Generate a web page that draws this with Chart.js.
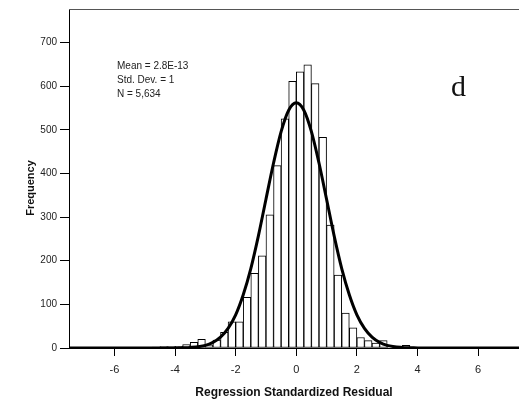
<!DOCTYPE html>
<html>
<head>
<meta charset="utf-8">
<script src="https://cdn.jsdelivr.net/npm/chart.js@4/dist/chart.umd.min.js"></script>
<style>
  html, body { margin: 0; padding: 0; background: #fff; overflow: hidden; }
  #wrap { width: 519px; height: 410px; position: relative; }
</style>
</head>
<body>
<div id="wrap"><canvas id="histChart"></canvas></div>
<script>
// bin centres (bin width 0.25) and frequencies
const binCenters = [
    -6.625, -6.375, -6.125, -5.875, -5.625, -5.375, -5.125, -4.875, -4.625, -4.375,
    -4.125, -3.875, -3.625, -3.375, -3.125, -2.875, -2.625, -2.375, -2.125, -1.875,
    -1.625, -1.375, -1.125, -0.875, -0.625, -0.375, -0.125, 0.125, 0.375, 0.625,
    0.875, 1.125, 1.375, 1.625, 1.875, 2.125, 2.375, 2.625, 2.875, 3.125,
    3.375, 3.625, 3.875, 4.125, 4.375
];
const frequencies = [
    1, 0, 0, 1, 0, 0, 0, 0, 2, 3,
    3, 4, 8, 13, 20, 7, 18, 36, 60, 60,
    116, 171, 211, 305, 418, 525, 611, 633, 649, 606,
    483, 282, 167, 80, 46, 24, 17, 11, 17, 3,
    2, 6, 2, 0, 1
];

// normal curve, values
const curveX = [
    -7.5, -5, -4.5, -4, -3.5, -3, -2.75, -2.5, -2.25, -2, -1.75, -1.5, -1.25, -1, -0.75, -0.5, -0.25,
    0, 0.25, 0.5, 0.75, 1, 1.25, 1.5, 1.75, 2, 2.25, 2.5, 2.75, 3, 3.5, 4, 4.5, 5, 7.35
];
const curveY = [
    0, 0, 0, 0.2, 1.2, 6, 13, 25, 45, 76, 122, 182, 257, 341, 424, 496, 545,
    562, 545, 496, 424, 341, 257, 182, 122, 76, 45, 25, 13, 6, 1.2, 0.2, 0, 0, 0
];

const xTicks = [-6, -4, -2, 0, 2, 4, 6];
const yTicks = [0, 100, 200, 300, 400, 500, 600, 700];

const statLines = ['Mean = 2.8E-13', 'Std. Dev. = 1', 'N = 5,634'];
const panelLetter = 'd';
const yTitle = 'Frequency';
const xTitle = 'Regression Standardized Residual';

// extra drawing: top frame line, y title, stats box and panel letter
const extrasPlugin = {
    id: 'extras',
    afterDraw(chart) {
        const ctx = chart.ctx;
        const area = chart.chartArea;
        ctx.save();

        ctx.strokeStyle = '#555';
        ctx.lineWidth = 1;
        ctx.beginPath();
        ctx.moveTo(area.left, area.top + 0.5);
        ctx.lineTo(area.right, area.top + 0.5);
        ctx.stroke();

        ctx.fillStyle = '#111';
        ctx.font = 'bold 11px "Liberation Sans", Arial, sans-serif';
        ctx.textAlign = 'center';
        ctx.textBaseline = 'middle';
        ctx.translate(31, 188);
        ctx.rotate(-Math.PI / 2);
        ctx.fillText(yTitle, 0, 0);
        ctx.setTransform(1, 0, 0, 1, 0, 0);

        ctx.fillStyle = '#222';
        ctx.font = '10px "Liberation Sans", Arial, sans-serif';
        ctx.textAlign = 'left';
        statLines.forEach((line, i) => {
            ctx.fillText(line, 117, 66 + i * 14.3);
        });

        ctx.fillStyle = '#111';
        ctx.font = '30px "Liberation Serif", "Times New Roman", serif';
        ctx.textBaseline = 'alphabetic';
        ctx.fillText(panelLetter, 451, 96);

        ctx.restore();
    }
};

var ctx = document.getElementById('histChart').getContext('2d');

new Chart(ctx, {
    data: {
        datasets: [
            {
                type: 'line',
                data: curveX.map((x, i) => ({ x: x, y: curveY[i] })),
                borderColor: '#000',
                borderWidth: 3,
                pointRadius: 0,
                fill: false,
                cubicInterpolationMode: 'monotone'
            },
            {
                type: 'bar',
                data: binCenters.map((x, i) => ({ x: x, y: frequencies[i] })),
                backgroundColor: '#fff',
                borderColor: '#000',
                borderWidth: 1,
                borderSkipped: false,
                barPercentage: 1,
                categoryPercentage: 1
            }
        ]
    },
    options: {
        responsive: true,
        maintainAspectRatio: false,
        animation: false,
        layout: { padding: { top: 7, left: 0, right: 0, bottom: 0 } },
        plugins: {
            legend: { display: false },
            tooltip: { enabled: false }
        },
        scales: {
            x: {
                type: 'linear',
                min: -7.5,
                max: 7.35,
                offset: false,
                afterBuildTicks: (scale) => { scale.ticks = xTicks.map(v => ({ value: v })); },
                afterFit: (scale) => { scale.height = 62; },
                grid: { offset: false, drawOnChartArea: false, drawTicks: true, tickLength: 8, color: '#000' },
                border: { color: '#000', width: 1 },
                ticks: {
                    color: '#222',
                    padding: 7,
                    maxRotation: 0,
                    font: { family: '"Liberation Sans", Arial, sans-serif', size: 11 }
                },
                title: {
                    display: true,
                    text: xTitle,
                    color: '#111',
                    padding: { top: 0, bottom: 10 },
                    font: { family: '"Liberation Sans", Arial, sans-serif', size: 12, weight: 'bold' }
                }
            },
            y: {
                min: 0,
                max: 777,
                afterBuildTicks: (scale) => { scale.ticks = yTicks.map(v => ({ value: v })); },
                afterFit: (scale) => { scale.width = 69; },
                grid: { drawOnChartArea: false, drawTicks: true, tickLength: 9, color: '#000' },
                border: { color: '#000', width: 1 },
                ticks: {
                    color: '#222',
                    padding: 3,
                    font: { family: '"Liberation Sans", Arial, sans-serif', size: 10 }
                }
            }
        }
    },
    plugins: [extrasPlugin]
});
</script>
</body>
</html>
